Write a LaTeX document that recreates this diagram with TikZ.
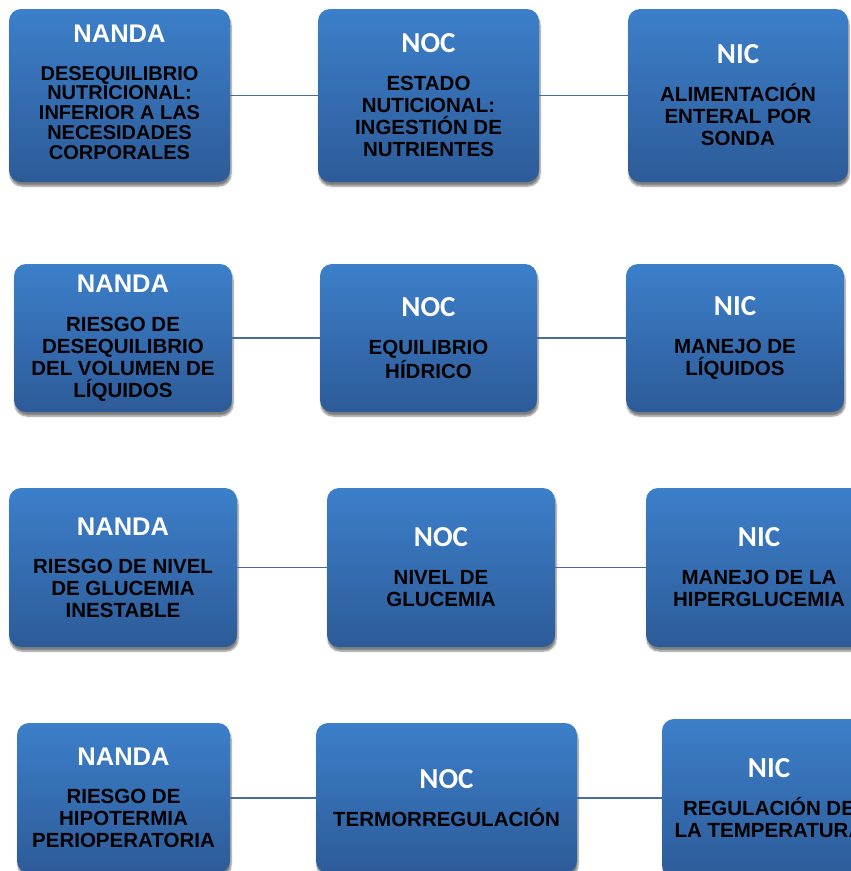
\documentclass[tikz,border=0pt]{standalone}
\usepackage{fontspec}
\newfontfamily\armfont{Liberation Sans}
\newfontfamily\calfont{Carlito}
\usetikzlibrary{shadows.blur}
\definecolor{boxtop}{RGB}{60,127,202}
\definecolor{boxbot}{RGB}{45,91,152}
\definecolor{lnk}{RGB}{70,108,165}
\newcommand{\nandahd}{{\armfont\color{white}\fontsize{25.5}{25.5}\selectfont NANDA}}
\newcommand{\lblhd}[1]{{\calfont\bfseries\color{white}\fontsize{29}{29}\selectfont #1}}

\begin{document}
\begin{tikzpicture}[x=1pt,y=-1pt,
  cell/.style={rounded corners=12pt,inner sep=0pt,align=center,
    top color=boxtop,bottom color=boxbot,
    font=\armfont\bfseries\fontsize{20.5}{22}\selectfont,
    blur shadow={shadow xshift=1pt,shadow yshift=-4pt,shadow blur steps=6,shadow opacity=50}},
  lk/.style={draw=lnk,line width=1.6pt}]
\clip (0,0) rectangle (851,871);

% --- fila 1: nutricion ---
\node[cell,minimum width=221pt,minimum height=173pt,
  font=\armfont\bfseries\fontsize{20}{19.75}\selectfont] (nanda1) at (119.5,95.5)
  {\nandahd\\[18pt]DESEQUILIBRIO\\NUTRICIONAL:\\INFERIOR A LAS\\NECESIDADES\\CORPORALES\rule[-7pt]{0pt}{7pt}};
\node[cell,minimum width=221pt,minimum height=173pt] (noc1) at (428.5,95.5)
  {\lblhd{NOC}\\[16pt]ESTADO\\NUTICIONAL:\\INGESTIÓN DE\\NUTRIENTES};
\node[cell,minimum width=220pt,minimum height=173pt] (nic1) at (738,95.5)
  {\lblhd{NIC}\\[16pt]ALIMENTACIÓN\\ENTERAL POR\\SONDA};
\draw[lk] (nanda1.east) -- (noc1.west);
\draw[lk] (noc1.east) -- (nic1.west);

% --- fila 2: liquidos ---
\node[cell,minimum width=218pt,minimum height=148pt] (nanda2) at (123,338)
  {\nandahd\\[17pt]RIESGO DE\\DESEQUILIBRIO\\DEL VOLUMEN DE\\LÍQUIDOS};
\node[cell,minimum width=217pt,minimum height=148pt] (noc2) at (428.5,338)
  {\lblhd{NOC}\\[16pt]EQUILIBRIO\\HÍDRICO};
\node[cell,minimum width=218pt,minimum height=148pt] (nic2) at (735,338)
  {\lblhd{NIC}\\[16pt]MANEJO DE\\LÍQUIDOS};
\draw[lk] (nanda2.east) -- (noc2.west);
\draw[lk] (noc2.east) -- (nic2.west);

% --- fila 3: glucemia ---
\node[cell,minimum width=228pt,minimum height=159pt] (nanda3) at (123,567.5)
  {\nandahd\\[16pt]RIESGO DE NIVEL\\DE GLUCEMIA\\INESTABLE};
\node[cell,minimum width=228pt,minimum height=159pt] (noc3) at (441,567.5)
  {\lblhd{NOC}\\[16pt]NIVEL DE\\GLUCEMIA};
\node[cell,minimum width=226pt,minimum height=159pt] (nic3) at (759,567.5)
  {\lblhd{NIC}\\[16pt]MANEJO DE LA\\HIPERGLUCEMIA};
\draw[lk] (nanda3.east) -- (noc3.west);
\draw[lk] (noc3.east) -- (nic3.west);

% --- fila 4: temperatura ---
\node[cell,minimum width=213pt,minimum height=150pt] (nanda4) at (123.5,798)
  {\nandahd\\[16pt]RIESGO DE\\HIPOTERMIA\\PERIOPERATORIA};
\node[cell,minimum width=261pt,minimum height=150pt] (noc4) at (446.5,798)
  {\lblhd{NOC}\\[16pt]TERMORREGULACIÓN};
\node[cell,minimum width=214pt,minimum height=158pt] (nic4) at (769,798)
  {\lblhd{NIC}\\[16pt]REGULACIÓN DE\\LA TEMPERATURA};
\draw[lk] (nanda4.east) -- (noc4.west);
\draw[lk] (noc4.east) -- (nic4.west);
\end{tikzpicture}
\end{document}
